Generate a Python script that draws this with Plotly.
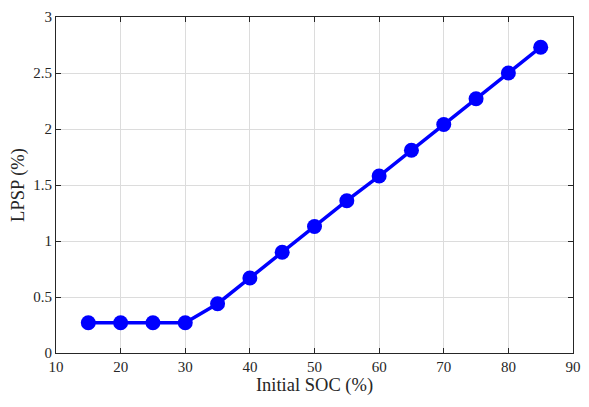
import plotly.graph_objects as go

soc = [15, 20, 25, 30, 35, 40, 45, 50, 55, 60, 65, 70, 75, 80, 85]
lpsp = [0.27, 0.27, 0.27, 0.27, 0.44, 0.67, 0.90, 1.13, 1.36, 1.58, 1.81, 2.04, 2.27, 2.50, 2.73]

fig = go.Figure()
fig.add_trace(go.Scatter(
    x=soc, y=lpsp, mode="lines+markers",
    line=dict(color="#0000ff", width=3.5),
    marker=dict(color="#0000ff", size=15),
))

axis_style = dict(
    showline=True, linecolor="#262626", linewidth=1, mirror="ticks",
    ticks="inside", ticklen=5, tickcolor="#262626",
    showgrid=True, gridcolor="#dcdcdc", gridwidth=1,
    zeroline=False, ticklabeloverflow="allow",
    tickfont=dict(family="Liberation Serif", size=15, color="#262626"),
)

# page body has an 8px margin, so the figure is shrunk to keep the plot area in place
fig.update_layout(
    width=581, height=399,
    margin=dict(l=48, r=16, t=9, b=54, autoexpand=False),
    paper_bgcolor="white", plot_bgcolor="white",
    showlegend=False,
    font=dict(family="Liberation Serif", color="#262626"),
    xaxis=dict(range=[10, 90], dtick=10,
               title=dict(text="Initial SOC (%)", font=dict(size=18.5), standoff=2),
               **axis_style),
    yaxis=dict(range=[0, 3], dtick=0.5,
               title=dict(text="LPSP (%)", font=dict(size=18.5), standoff=6),
               **axis_style),
)

fig.write_html("out.html")
